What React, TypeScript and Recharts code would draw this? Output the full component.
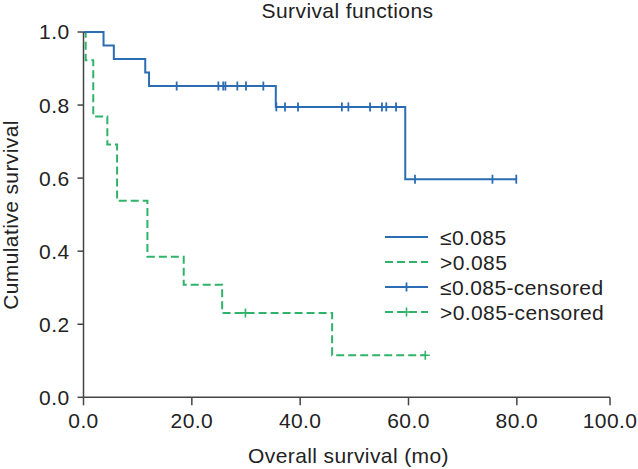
import React from 'react';
import { ComposedChart, Line, Scatter, XAxis, YAxis, Legend } from 'recharts';

// Kaplan-Meier steps (time in months, cumulative survival)
const lowSteps = [
    { t: 0, s: 1.0 },
    { t: 3.7, s: 0.963 },
    { t: 5.6, s: 0.926 },
    { t: 11.4, s: 0.889 },
    { t: 12.1, s: 0.852 },
    { t: 35.5, s: 0.795 },
    { t: 59.4, s: 0.597 },
    { t: 80.0, s: 0.597 },
];
const highSteps = [
    { t: 0, s: 1.0 },
    { t: 0.4, s: 0.923 },
    { t: 1.8, s: 0.769 },
    { t: 4.4, s: 0.692 },
    { t: 6.2, s: 0.538 },
    { t: 11.8, s: 0.385 },
    { t: 18.5, s: 0.308 },
    { t: 25.6, s: 0.231 },
    { t: 45.9, s: 0.115 },
    { t: 63.1, s: 0.115 },
];

// censored cases
const lowCensored = [
    { t: 17.2, s: 0.852 }, { t: 24.9, s: 0.852 }, { t: 25.8, s: 0.852 }, { t: 26.2, s: 0.852 },
    { t: 28.4, s: 0.852 }, { t: 30.0, s: 0.852 }, { t: 33.2, s: 0.852 },
    { t: 35.6, s: 0.795 }, { t: 37.2, s: 0.795 }, { t: 39.6, s: 0.795 }, { t: 47.7, s: 0.795 },
    { t: 48.9, s: 0.795 }, { t: 52.9, s: 0.795 }, { t: 55.1, s: 0.795 }, { t: 55.9, s: 0.795 },
    { t: 57.7, s: 0.795 },
    { t: 61.2, s: 0.597 }, { t: 75.5, s: 0.597 }, { t: 79.9, s: 0.597 },
];
const highCensored = [
    { t: 29.9, s: 0.231 },
    { t: 63.1, s: 0.115 },
];

// the printed axis is slightly compressed at its right end: "100.0" sits where 97.2 would be
const X_END = 97.2;
const xTicks = [0, 20, 40, 60, 80, X_END];
const yTicks = [0, 0.2, 0.4, 0.6, 0.8, 1.0];

const legendItems = [
    { label: '≤0.085', color: '#2b6cb3', dashed: false, mark: null },
    { label: '>0.085', color: '#30b26a', dashed: true, mark: null },
    { label: '≤0.085-censored', color: '#2b6cb3', dashed: false, mark: 'tick' },
    { label: '>0.085-censored', color: '#30b26a', dashed: true, mark: 'plus' },
];

const BLUE = '#2b6cb3';
const GREEN = '#30b26a';
const FONT = '"Liberation Sans", Arial, sans-serif';
const TEXT = '#222';
const FS = 21;
const LS = '0.4px';

const TickMark = (props: any) => {
    const { cx, cy } = props;
    return <path d={`M${cx},${cy - 4.5}V${cy + 4.5}`} stroke={BLUE} strokeWidth={1.8} />;
};

const PlusMark = (props: any) => {
    const { cx, cy } = props;
    return <path d={`M${cx},${cy - 4.5}V${cy + 4.5}M${cx - 4.5},${cy}H${cx + 4.5}`} stroke={GREEN} strokeWidth={1.6} />;
};

const renderLegend = () => (
    <div style={{ fontFamily: FONT, fontSize: FS, letterSpacing: LS, color: TEXT }}>
        {legendItems.map((item) => (
            <div key={item.label} style={{ display: 'flex', alignItems: 'center', height: 25, lineHeight: '25px' }}>
                <svg width={43} height={25} style={{ marginRight: 12 }}>
                    <line x1={0} y1={12} x2={43} y2={12} stroke={item.color} strokeWidth={2}
                        strokeDasharray={item.dashed ? '8 4' : undefined} />
                    {item.mark === 'tick' && <path d="M21.5,7.5V16.5" stroke={item.color} strokeWidth={1.8} />}
                    {item.mark === 'plus' && <path d="M21.5,7.5V16.5M17,12H26" stroke={item.color} strokeWidth={1.6} />}
                </svg>
                <span style={{ whiteSpace: 'nowrap' }}>{item.label}</span>
            </div>
        ))}
    </div>
);

export default function App() {
    const tickStyle = { fontFamily: FONT, fontSize: FS, fill: TEXT, letterSpacing: LS };
    const labelStyle: React.CSSProperties = { position: 'absolute', fontSize: FS, letterSpacing: LS, lineHeight: `${FS}px`, whiteSpace: 'nowrap' };
    return (
        <div style={{ position: 'absolute', left: 0, top: 0, width: 638, height: 469, background: '#fff', fontFamily: FONT, color: TEXT }}>
            <ComposedChart width={638} height={469} margin={{ top: 32, right: 28, bottom: 21.7, left: 23.5 }}>
                <XAxis
                    dataKey="t"
                    type="number"
                    domain={[0, X_END]}
                    ticks={xTicks}
                    tickFormatter={(v: number) => (v === X_END ? '100.0' : v.toFixed(1))}
                    height={50}
                    tickSize={8}
                    tickMargin={8}
                    stroke="#444"
                    strokeWidth={1.5}
                    tick={tickStyle}
                    allowDataOverflow
                />
                <YAxis
                    dataKey="s"
                    type="number"
                    domain={[0, 1]}
                    ticks={yTicks}
                    tickFormatter={(v: number) => v.toFixed(1)}
                    width={60}
                    tickSize={6}
                    tickMargin={8}
                    stroke="#444"
                    strokeWidth={1.5}
                    tick={tickStyle}
                />
                <Legend
                    layout="vertical"
                    align="center"
                    verticalAlign="middle"
                    content={renderLegend}
                    wrapperStyle={{ left: 385, top: 224.5, width: 240 }}
                />
                <Line data={highSteps} dataKey="s" type="stepAfter" stroke={GREEN} strokeWidth={2}
                    strokeDasharray="8 4" dot={false} isAnimationActive={false} />
                <Line data={lowSteps} dataKey="s" type="stepAfter" stroke={BLUE} strokeWidth={2}
                    dot={false} isAnimationActive={false} />
                <Scatter data={lowCensored} dataKey="s" shape={TickMark} isAnimationActive={false} />
                <Scatter data={highCensored} dataKey="s" shape={PlusMark} isAnimationActive={false} />
            </ComposedChart>
            <div style={{ ...labelStyle, left: 347.5, top: 0, transform: 'translateX(-50%)' }}>
                Survival functions
            </div>
            <div style={{ ...labelStyle, left: 348.5, top: 445, transform: 'translateX(-50%)' }}>
                Overall survival (mo)
            </div>
            <div style={{ ...labelStyle, left: 10, top: 215, transform: 'translate(-50%, -50%) rotate(-90deg)' }}>
                Cumulative survival
            </div>
        </div>
    );
}
